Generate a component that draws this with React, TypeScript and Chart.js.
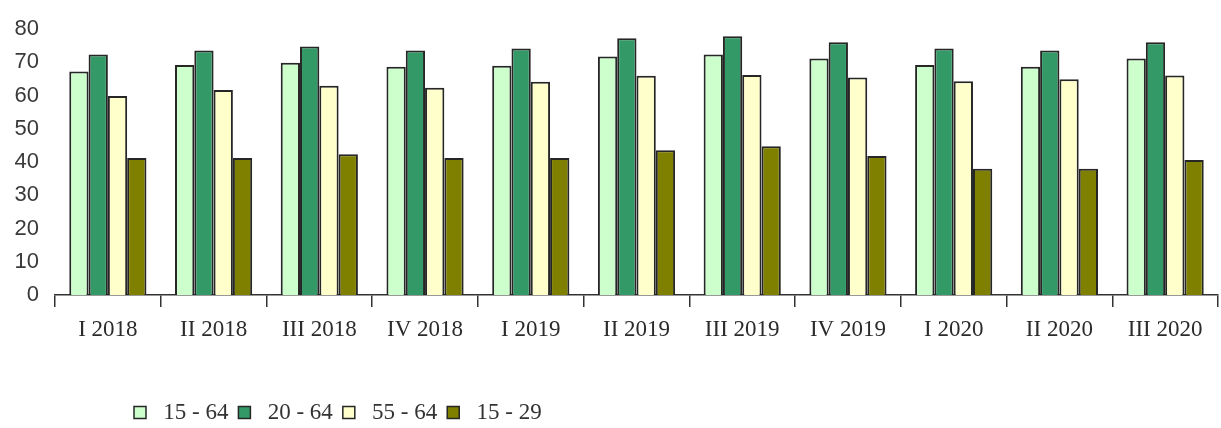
import React, { useEffect, useRef } from "react";
import { Chart, registerables } from "chart.js";

Chart.register(...registerables);

const categories = [
  "I 2018", "II 2018", "III 2018", "IV 2018",
  "I 2019", "II 2019", "III 2019", "IV 2019",
  "I 2020", "II 2020", "III 2020",
];

const seriesNames = ["15 - 64", "20 - 64", "55 - 64", "15 - 29"];

const age15to64 = [67.3, 69.2, 69.9, 68.7, 69.0, 71.8, 72.4, 71.2, 69.2, 68.7, 71.2];
const age20to64 = [72.4, 73.6, 74.8, 73.6, 74.2, 77.3, 77.9, 76.1, 74.2, 73.6, 76.1];
const age55to64 = [59.9, 61.7, 63.0, 62.4, 64.2, 66.0, 66.2, 65.5, 64.3, 64.9, 66.1];
const age15to29 = [41.2, 41.2, 42.4, 41.2, 41.2, 43.6, 44.8, 41.8, 38.0, 38.0, 40.6];

const yMin = 0;
const yMax = 80;
const yStep = 10;

const colors = ["#CCFFCC", "#339966", "#FFFFCC", "#808000"];

const legendPlacer = {
  id: "legendPlacer",
  afterLayout(chart: any) {
    const lg = chart.legend;
    if (!lg) return;
    const h = lg.height;
    lg.left = 124;
    lg.top = 391;
    lg.bottom = lg.top + h;
  },
};

export default function App() {
  const ref = useRef<HTMLCanvasElement | null>(null);

  useEffect(() => {
    if (!ref.current) return;
    const values = [age15to64, age20to64, age55to64, age15to29];
    const chart = new Chart(ref.current, {
      type: "bar",
      data: {
        labels: categories,
        datasets: seriesNames.map((name, i) => ({
          label: name,
          data: values[i],
          backgroundColor: colors[i],
          borderColor: "#262626",
          borderWidth: 2,
          categoryPercentage: 0.73,
          barPercentage: 1,
        })),
      },
      options: {
        animation: false,
        responsive: true,
        maintainAspectRatio: false,
        layout: { padding: { left: 0, right: 3, top: 25, bottom: 0 } },
        plugins: {
          tooltip: { enabled: false },
          legend: {
            position: "bottom",
            align: "start",
            labels: {
              boxWidth: 12,
              boxHeight: 12,
              padding: 10,
              color: "#333",
              font: { family: "'Liberation Serif', 'Times New Roman', serif", size: 23 },
              generateLabels: (c: any) =>
                Chart.defaults.plugins.legend.labels
                  .generateLabels(c)
                  .map((l: any) => ({ ...l, lineWidth: 1.5, text: " " + l.text })),
            },
          },
        },
        scales: {
          x: {
            grid: {
              display: true,
              drawOnChartArea: false,
              drawTicks: true,
              tickLength: 12,
              offset: true,
              color: "#333",
              lineWidth: 1.5,
            },
            border: { display: true, color: "#333", width: 1.5 },
            ticks: {
              color: "#2b2b2b",
              padding: 9,
              maxRotation: 0,
              autoSkip: false,
              font: { family: "'Liberation Serif', 'Times New Roman', serif", size: 23 },
            },
            afterFit: (s: any) => {
              s.height = 90;
            },
          },
          y: {
            min: yMin,
            max: yMax,
            grid: { display: false, drawTicks: false },
            border: { display: false },
            ticks: {
              stepSize: yStep,
              padding: 16,
              color: "#3a3a3a",
              font: { family: "'Liberation Sans', Arial, sans-serif", size: 22 },
            },
            afterFit: (s: any) => {
              s.width = 55;
            },
          },
        },
      },
      plugins: [legendPlacer],
    });
    return () => chart.destroy();
  }, []);

  return (
    <div style={{ position: "absolute", left: 0, top: 0, width: 1221, height: 428, background: "#fff" }}>
      <canvas ref={ref} />
    </div>
  );
}
